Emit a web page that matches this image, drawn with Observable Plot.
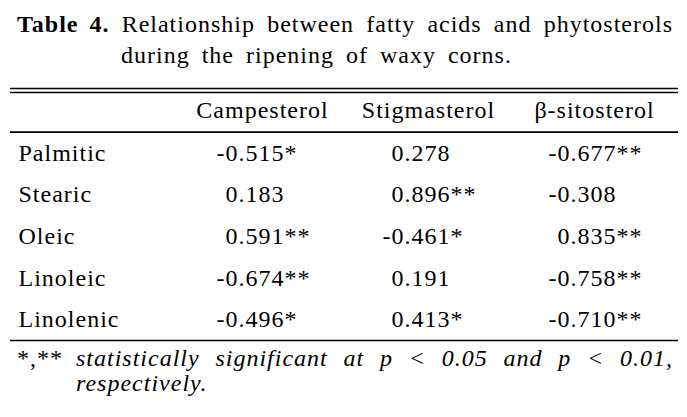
<!DOCTYPE html>
<html><head><meta charset="utf-8">
<script src="https://cdn.jsdelivr.net/npm/d3@7"></script>
<script src="https://cdn.jsdelivr.net/npm/@observablehq/plot@0.6"></script>
<style>
body{margin:0;background:#fff;width:687px;height:417px;overflow:hidden;font-family:"Liberation Serif",serif;color:#000}
#title{height:75px;box-sizing:border-box;padding-top:9px;font-size:24px;line-height:31px;letter-spacing:1px}
#title .l1{margin-left:17px;width:656px;white-space:nowrap;display:flex;justify-content:space-between}
#title .l2{margin-left:121px;word-spacing:5px}
#note{height:72px;box-sizing:border-box;padding-top:1px;font-size:24px;line-height:25px;font-style:italic;position:relative;letter-spacing:1px}
#note .l1{margin-left:76px;width:597px;display:flex;justify-content:space-between}
#note .l2{margin-left:76px}
#note .stars{position:absolute;left:17px;top:1px;font-style:normal}
</style></head>
<body>
<div id="title"><div class="l1"></div><div class="l2"></div></div>
<div id="chart"></div>
<div id="note"><span class="stars"></span><div class="l1"></div><div class="l2"></div></div>
<script>
const titleLabel = "Table 4.";
const titleLine1 = "Relationship between fatty acids and phytosterols";
const titleLine2 = "during the ripening of waxy corns.";
const noteStars = "*,**";
const noteLine1 = "statistically significant at p < 0.05 and p < 0.01,";
const noteLine2 = "respectively.";

const fattyAcids = ["Palmitic", "Stearic", "Oleic", "Linoleic", "Linolenic"];
const sterols = ["Campesterol", "Stigmasterol", "β-sitosterol"];
const campesterolR = [-0.515, 0.183, 0.591, -0.674, -0.496];
const campesterolSig = ["*", "", "**", "**", "*"];
const stigmasterolR = [0.278, 0.896, -0.461, 0.191, 0.413];
const stigmasterolSig = ["", "**", "*", "", "*"];
const sitosterolR = [-0.677, -0.308, 0.835, -0.758, -0.710];
const sitosterolSig = ["**", "", "**", "**", "**"];

const esc = s => s.replace(/&/g, "&amp;").replace(/</g, "&lt;");
document.querySelector("#title .l1").innerHTML =
  `<b style="word-spacing:4px">${esc(titleLabel)}</b>` + titleLine1.split(" ").map(w => `<span>${esc(w)}</span>`).join("");
document.querySelector("#title .l2").textContent = titleLine2;
document.querySelector("#note .stars").textContent = noteStars;
document.querySelector("#note .l1").innerHTML = noteLine1.split(" ").map(w => `<span>${esc(w)}</span>`).join("");
document.querySelector("#note .l2").textContent = noteLine2;

const columns = ["", ...sterols];
const rs = [campesterolR, stigmasterolR, sitosterolR];
const sigs = [campesterolSig, stigmasterolSig, sitosterolSig];
const cells = [];
sterols.forEach((s, j) => fattyAcids.forEach((f, i) => {
  cells.push({col: s, row: i, r: rs[j][i], text: rs[j][i].toFixed(3) + sigs[j][i]});
}));
const labels = fattyAcids.map((f, i) => ({col: "", row: i, text: f}));
const header = sterols.map(s => ({col: s, row: -1, text: s}));
const nRows = fattyAcids.length;

const chart = Plot.plot({
  width: 687,
  height: 270,
  marginLeft: 10,
  marginRight: 9,
  marginTop: 0,
  marginBottom: 0,
  style: {fontFamily: "Liberation Serif", fontSize: "24px", letterSpacing: "1px", background: "transparent", color: "#000"},
  x: {type: "point", domain: columns, range: [95, 594], padding: 0, axis: null},
  y: {domain: [-1.5, nRows - 0.5], range: [15, 265], axis: null},
  marks: [
    Plot.ruleY([-1.5], {stroke: "#000", strokeWidth: 1.6, dy: -2}),
    Plot.ruleY([-1.5], {stroke: "#000", strokeWidth: 1.6, dy: 2}),
    Plot.ruleY([-0.5], {stroke: "#000", strokeWidth: 1.6}),
    Plot.ruleY([nRows - 0.5], {stroke: "#000", strokeWidth: 1.6}),
    Plot.text(header, {x: "col", y: "row", text: "text", textAnchor: "middle", fill: "#000", fontSize: 24, dy: -1}),
    Plot.text(labels, {x: "col", y: "row", text: "text", textAnchor: "start", dx: -78, fill: "#000", fontSize: 24}),
    Plot.text(cells.filter(d => d.r < 0), {x: "col", y: "row", text: "text", textAnchor: "start", dx: -46, fill: "#000", fontSize: 24}),
    Plot.text(cells.filter(d => d.r >= 0), {x: "col", y: "row", text: "text", textAnchor: "start", dx: -37, fill: "#000", fontSize: 24})
  ]
});
document.getElementById("chart").append(chart);
</script>
</body></html>
